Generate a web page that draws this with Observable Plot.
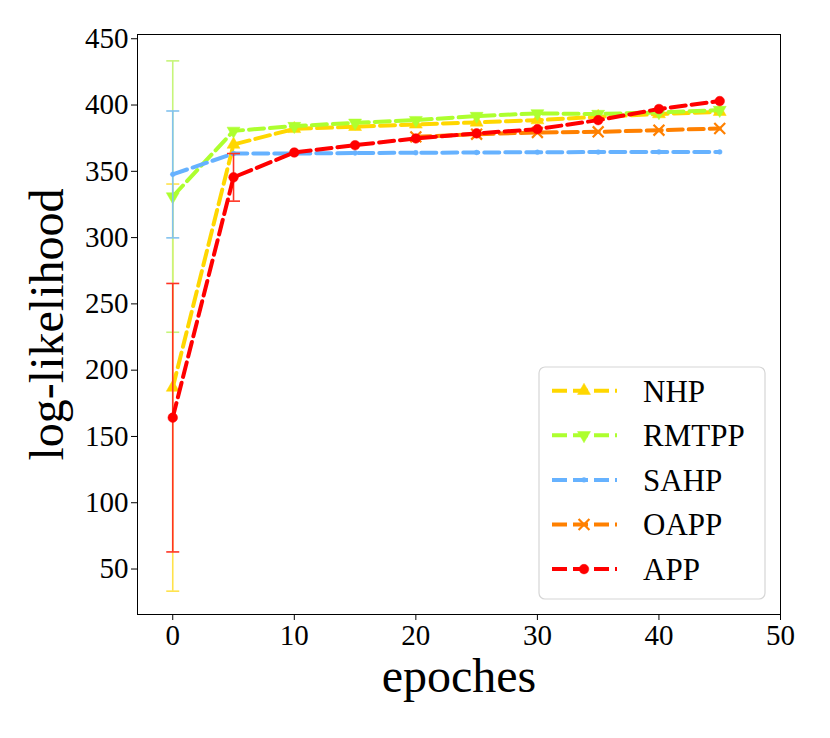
<!DOCTYPE html>
<html><head><meta charset="utf-8">
<script src="https://cdn.jsdelivr.net/npm/d3@7"></script>
<script src="https://cdn.jsdelivr.net/npm/@observablehq/plot@0.6"></script>
<style>body{margin:0;background:#fff}</style>
</head><body><div id="chart"></div>
<script>
// ---- data ----
const epochs = [0, 5, 10, 15, 20, 25, 30, 35, 40, 45];
const nhp   = [186.9, 370.2, 382.0, 383.6, 385.4, 386.9, 388.6, 391.1, 393.2, 394.9];
const rmtpp = [331.0, 380.5, 384.1, 386.6, 388.6, 391.7, 393.7, 393.2, 394.5, 396.2];
const sahp  = [347.7, 363.4, 363.4, 363.8, 364.0, 364.2, 364.4, 364.5, 364.6, 364.6];
const oappEpochs = [20, 25, 30, 35, 40, 45];
const oapp  = [376.0, 378.0, 379.3, 379.8, 381.0, 382.3];
const app   = [164.2, 345.5, 364.2, 369.7, 374.8, 378.6, 381.8, 388.6, 397.0, 403.0];

const errSeries = ["NHP", "RMTPP", "SAHP", "APP", "APP"];
const errEpochs = [0, 0, 0, 0, 5];
const errLow  = [33.3, 228.6, 299.8, 62.9, 327.5];
const errHigh = [340.4, 433.3, 395.5, 265.4, 363.4];

const xTicks = [0, 10, 20, 30, 40, 50];
const yTicks = [50, 100, 150, 200, 250, 300, 350, 400, 450];
const seriesNames = ["NHP", "RMTPP", "SAHP", "OAPP", "APP"];

// ---- styles ----
const styles = {
  NHP:   {color: "#FFD700", bar: "#FFE24A", symbol: "triangle", rotate: 0,   r: 4.8, filled: true},
  RMTPP: {color: "#ADFF2F", bar: "#C6F57A", symbol: "triangle", rotate: 180, r: 4.8, filled: true},
  SAHP:  {color: "#66B2FF", bar: "#82C2EE", symbol: "circle",   rotate: 0,   r: 2.4, filled: true},
  OAPP:  {color: "#FF8000", bar: "#FF9A40", symbol: "times",    rotate: 0,   r: 5.0, filled: false},
  APP:   {color: "#FF0000", bar: "#FF3322", symbol: "circle",   rotate: 0,   r: 4.8, filled: true}
};

const seriesData = {
  NHP: epochs.map((e, i) => ({x: e, y: nhp[i]})),
  RMTPP: epochs.map((e, i) => ({x: e, y: rmtpp[i]})),
  SAHP: epochs.map((e, i) => ({x: e, y: sahp[i]})),
  OAPP: oappEpochs.map((e, i) => ({x: e, y: oapp[i]})),
  APP: epochs.map((e, i) => ({x: e, y: app[i]}))
};
const errData = errSeries.map((s, i) => ({s, x: errEpochs[i], lo: errLow[i], hi: errHigh[i]}));

const capSymbol = {draw(ctx) { ctx.moveTo(-6.5, 0); ctx.lineTo(6.5, 0); }};

const marks = [];
for (const s of seriesNames) {
  const st = styles[s];
  const ed = errData.filter(d => d.s === s);
  if (ed.length) {
    marks.push(Plot.ruleX(ed, {x: "x", y1: "lo", y2: "hi", stroke: st.bar, strokeWidth: 1.6}));
    marks.push(Plot.dot(ed, {x: "x", y: "lo", symbol: capSymbol, r: 5, fill: "none", stroke: st.bar, strokeWidth: 1.6}));
    marks.push(Plot.dot(ed, {x: "x", y: "hi", symbol: capSymbol, r: 5, fill: "none", stroke: st.bar, strokeWidth: 1.6}));
  }
  marks.push(Plot.line(seriesData[s], {x: "x", y: "y", stroke: st.color, strokeWidth: 4, strokeDasharray: "15,6"}));
  marks.push(Plot.dot(seriesData[s], {
    x: "x", y: "y", symbol: st.symbol, rotate: st.rotate, r: st.r,
    fill: st.filled ? st.color : "none", stroke: st.color, strokeWidth: st.filled ? 0.5 : 2.2
  }));
}

const chart = Plot.plot({
  width: 830,
  height: 738,
  marginLeft: 137,
  marginRight: 50,
  marginTop: 34,
  marginBottom: 124,
  style: {fontFamily: "'Liberation Serif', serif", background: "white", color: "black"},
  x: {domain: [-2.9, 50]},
  y: {domain: [15.7, 453.2]},
  marks: [
    ...marks,
    Plot.frame({stroke: "black", strokeWidth: 1}),
    Plot.axisX({ticks: xTicks, tickSize: 6, tickPadding: 4, fontSize: 29, label: null}),
    Plot.axisY({ticks: yTicks, tickSize: 6, tickPadding: 3, fontSize: 29, label: null}),
    Plot.text(["log-likelihood"], {text: d => d, frameAnchor: "left", dx: -90, rotate: -90, textAnchor: "middle", lineAnchor: "middle", fontSize: 48}),
    Plot.text(["epoches"], {text: d => d, frameAnchor: "bottom", dy: 62, textAnchor: "middle", lineAnchor: "middle", fontSize: 48})
  ]
});

// ---- legend ----
const svg = d3.select(chart);
const lg = svg.append("g").attr("text-anchor", "start");
lg.append("rect").attr("x", 539).attr("y", 367).attr("width", 226).attr("height", 232)
  .attr("rx", 6).attr("fill", "white").attr("fill-opacity", 0.8).attr("stroke", "#d6d6d6").attr("stroke-width", 1.2);
const symMap = {triangle: d3.symbolTriangle, circle: d3.symbolCircle, times: d3.symbolTimes};
seriesNames.forEach((s, i) => {
  const st = styles[s];
  const y = 390.7 + i * 44.6;
  lg.append("line").attr("x1", 552).attr("x2", 617).attr("y1", y).attr("y2", y)
    .attr("stroke", st.color).attr("stroke-width", 4).attr("stroke-dasharray", "15,6");
  lg.append("path")
    .attr("d", d3.symbol(symMap[st.symbol], Math.PI * st.r * st.r)())
    .attr("transform", `translate(584,${y}) rotate(${st.rotate})`)
    .attr("fill", st.filled ? st.color : "none").attr("stroke", st.color).attr("stroke-width", st.filled ? 0.5 : 2.2);
  lg.append("text").attr("x", 643).attr("y", y).attr("dy", "0.35em")
    .attr("text-anchor", "start").attr("font-size", 31).attr("fill", "black").text(s);
});

document.getElementById("chart").appendChild(chart);
</script>
</body></html>
